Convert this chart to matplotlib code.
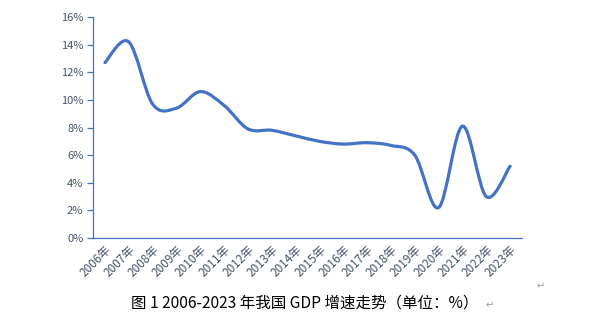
import numpy as np
import matplotlib
matplotlib.use('Agg')
import matplotlib.pyplot as plt
from matplotlib.path import Path
from matplotlib.patches import PathPatch
from matplotlib.ticker import FuncFormatter

plt.rcParams['font.family'] = ['Noto Sans CJK SC', 'DejaVu Sans']

years = ['2006年', '2007年', '2008年', '2009年', '2010年', '2011年', '2012年',
         '2013年', '2014年', '2015年', '2016年', '2017年', '2018年', '2019年',
         '2020年', '2021年', '2022年', '2023年']
growth = [12.7, 14.2, 9.7, 9.4, 10.6, 9.6, 7.9, 7.8, 7.4, 7.0, 6.8, 6.9,
          6.7, 6.0, 2.2, 8.1, 3.0, 5.2]
yticks = [0, 2, 4, 6, 8, 10, 12, 14, 16]
caption = '图 1 2006-2023 年我国 GDP 增速走势（单位：%）'

line_color = '#4472C4'
text_color = '#44546A'


def smooth_path(x, y):
    # Excel-style smoothed line: Catmull-Rom turned into cubic Bezier pieces
    pts = np.column_stack([x, y]).astype(float)
    verts = [pts[0]]
    codes = [Path.MOVETO]
    n = len(pts)
    for i in range(n - 1):
        p0 = pts[max(i - 1, 0)]
        p1 = pts[i]
        p2 = pts[i + 1]
        p3 = pts[min(i + 2, n - 1)]
        c1 = p1 + (p2 - p0) / 6
        c2 = p2 - (p3 - p1) / 6
        verts += [c1, c2, p2]
        codes += [Path.CURVE4] * 3
    return Path(verts, codes)


fig = plt.figure(figsize=(6.03, 3.24), dpi=100)
ax = fig.add_axes([0.1542, 0.2654, 0.7115, 0.6821])

x = np.arange(len(years))
patch = PathPatch(smooth_path(x, growth), facecolor='none', edgecolor=line_color,
                  lw=2.3, capstyle='round', joinstyle='round')
ax.add_patch(patch)

ax.set_xlim(-0.5, len(years) - 0.5)
ax.set_ylim(0, 16)
ax.set_yticks(yticks)
ax.yaxis.set_major_formatter(FuncFormatter(lambda v, p: f'{v:.0f}%'))
ax.set_xticks(x)
ax.set_xticklabels(years, rotation=45, ha='right', rotation_mode='anchor')

for s in ['top', 'right']:
    ax.spines[s].set_visible(False)
for s in ['left', 'bottom']:
    ax.spines[s].set_color(line_color)
    ax.spines[s].set_linewidth(0.9)

ax.tick_params(axis='y', colors=line_color, labelcolor=text_color, labelsize=8,
               length=4, width=0.9, pad=3)
ax.tick_params(axis='x', length=0, labelcolor=text_color, labelsize=8.5, pad=4)

fig.text(0.506, 0.065, caption, ha='center', va='center', fontsize=11.2, color='black')
fig.text(0.897, 0.115, '↵', ha='center', va='center', fontsize=7,
         color='#999999', family=['DejaVu Sans'])
fig.text(0.812, 0.058, '↵', ha='center', va='center', fontsize=7,
         color='#999999', family=['DejaVu Sans'])

fig.savefig('out.png', dpi=100)
